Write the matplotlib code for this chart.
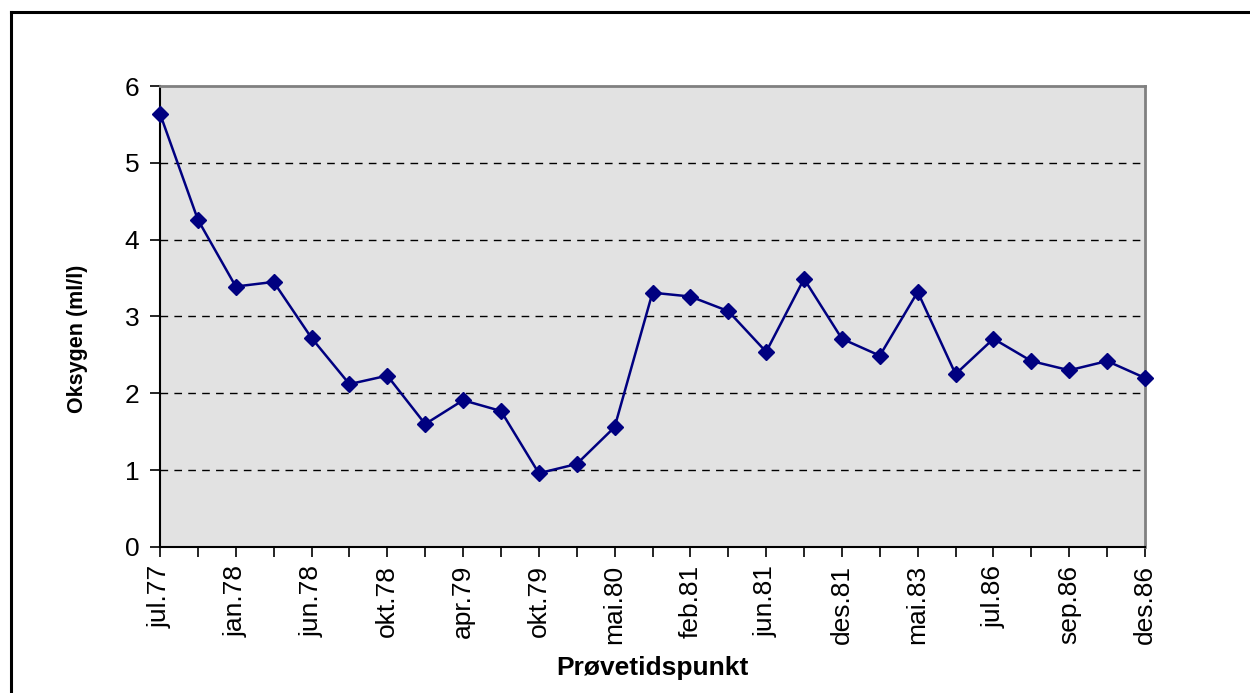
import matplotlib.pyplot as plt
from matplotlib.lines import Line2D
import numpy as np

plt.rcParams['font.family'] = ['Liberation Sans', 'DejaVu Sans']

# sample dates (every other one is labelled on the axis)
dates = ['jul.77', '', 'jan.78', '', 'jun.78', '', 'okt.78', '', 'apr.79', '',
         'okt.79', '', 'mai.80', '', 'feb.81', '', 'jun.81', '', 'des.81', '',
         'mai.83', '', 'jul.86', '', 'sep.86', '', 'des.86']
oxygen = [5.64, 4.26, 3.39, 3.45, 2.72, 2.12, 2.23, 1.60, 1.91, 1.77,
          0.96, 1.08, 1.56, 3.31, 3.26, 3.07, 2.54, 3.49, 2.71, 2.49,
          3.32, 2.25, 2.71, 2.42, 2.30, 2.42, 2.20]
yticks = [0, 1, 2, 3, 4, 5, 6]

fig = plt.figure(figsize=(12.5, 6.93), dpi=100)
ax = fig.add_axes([0.128, 0.2107, 0.788, 0.6652])

x = np.arange(len(oxygen))
ax.set_facecolor('#e2e2e2')
ax.plot(x, oxygen, color='#000080', lw=1.8, marker='D', ms=8,
        mec='#000080', mfc='#000080', zorder=3, clip_on=False)

ax.set_xlim(0, len(oxygen) - 1)
ax.set_ylim(0, 6)
ax.set_yticks(yticks)
ax.set_xticks(x)
ax.set_xticklabels(dates, rotation=90)
ax.tick_params(axis='both', direction='out', length=7, width=1.2,
               labelsize=19, color='black')
ax.tick_params(axis='x', pad=6)
ax.tick_params(axis='y', pad=8)

for yv in yticks[1:-1]:
    ax.axhline(yv, color='black', lw=1, ls=(0, (5.5, 4.5)), zorder=1)

ax.spines['left'].set_linewidth(1.5)
ax.spines['bottom'].set_linewidth(1.5)
ax.spines['top'].set_color('#808080')
ax.spines['right'].set_color('#808080')
ax.spines['top'].set_linewidth(2)
ax.spines['right'].set_linewidth(2)

ax.set_ylabel('Oksygen (ml/l)', fontsize=15.5, fontweight='bold', va='center')
ax.set_xlabel('Prøvetidspunkt', fontsize=19, fontweight='bold', va='center')
ax.yaxis.set_label_coords(-0.084, 0.451)
ax.xaxis.set_label_coords(0.5, -0.262)

# outer chart border (only top and left visible in the crop)
fig.add_artist(Line2D([11 / 1250, 11 / 1250], [0, 1 - 12 / 693],
                      transform=fig.transFigure, color='black', lw=2.2))
fig.add_artist(Line2D([11 / 1250, 1], [1 - 12 / 693, 1 - 12 / 693],
                      transform=fig.transFigure, color='black', lw=2.2))

fig.savefig('out.png', dpi=100)
